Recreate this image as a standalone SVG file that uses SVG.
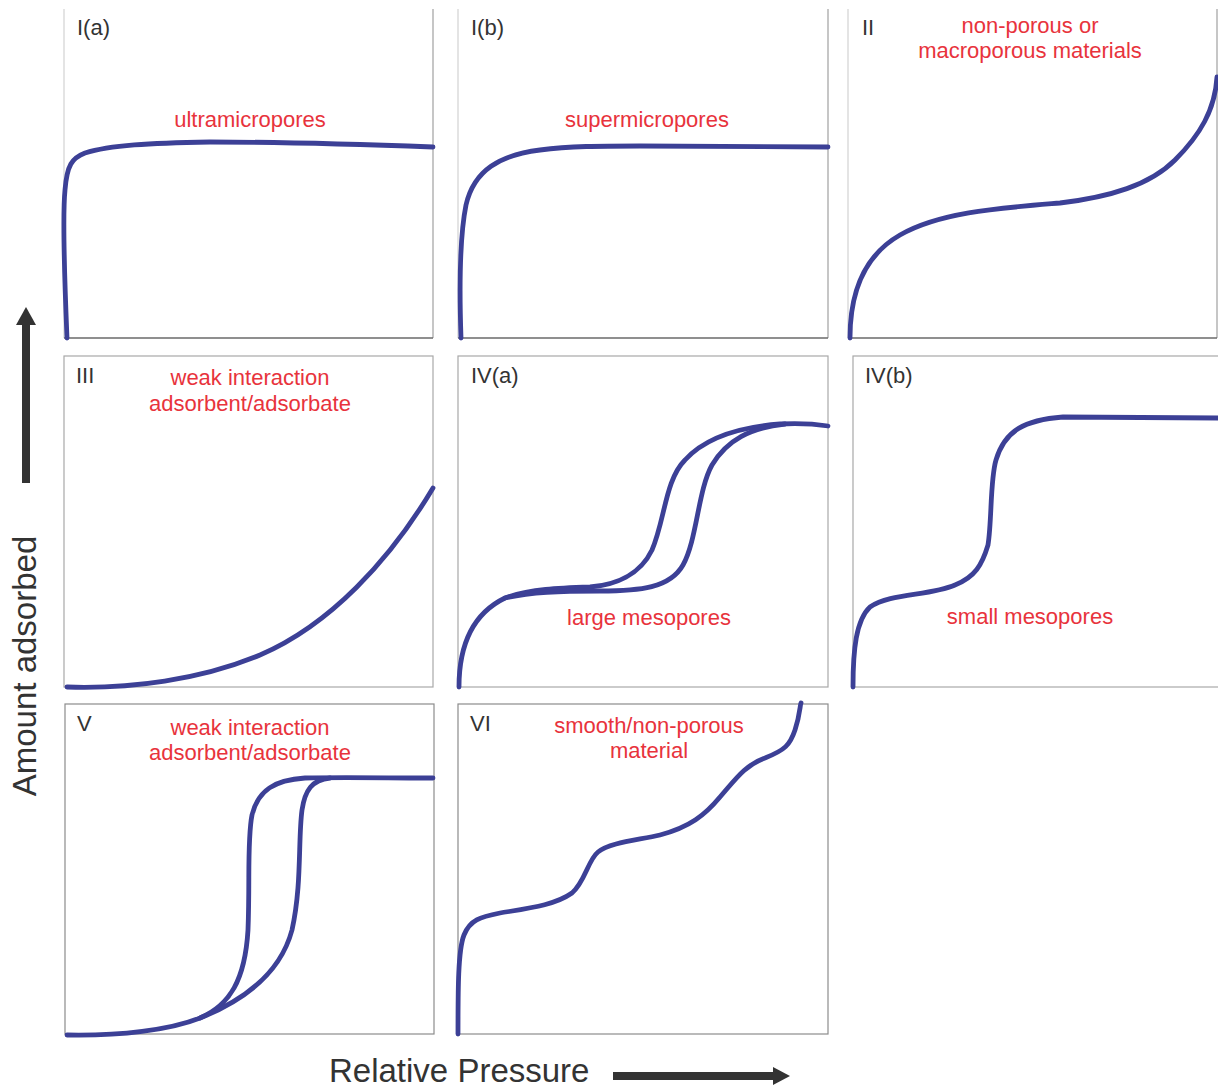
<svg xmlns="http://www.w3.org/2000/svg" width="1218" height="1089" viewBox="0 0 1218 1089">
<defs>
<style>
.frame{fill:none;stroke:#a8a8a8;stroke-width:1.2}
.fl{stroke:#d2d2d2;stroke-width:1.2}
.fr{stroke:#a0a0a0;stroke-width:1.2}
.fb{stroke:#6a6a6a;stroke-width:1.4}
.curve{fill:none;stroke:#3c4096;stroke-width:4.8;stroke-linecap:round;stroke-linejoin:round}
.tag{font-family:"Liberation Sans",Arial,sans-serif;font-size:22px;fill:#333333}
.note{font-family:"Liberation Sans",Arial,sans-serif;font-size:22px;fill:#e8333c;text-anchor:middle}
.axis{font-family:"Liberation Sans",Arial,sans-serif;font-size:33px;fill:#333333}
</style>
</defs>
<rect width="1218" height="1089" fill="#ffffff"/>

<g id="panel-Ia">
<line class="fl" x1="64" y1="9" x2="64" y2="338"/>
<line class="fr" x1="433" y1="9" x2="433" y2="338"/>
<line class="fb" x1="64" y1="338" x2="433" y2="338"/>
<path class="curve" d="M67,338 C65,290 62,220 65,190 C67,165 72,158 85,153 C110,145 150,143 210,142 C300,142 380,145 433,147"/>
<text class="tag" x="77" y="35">I(a)</text>
<text class="note" x="250" y="127">ultramicropores</text>
</g>

<g id="panel-Ib">
<line class="fl" x1="458" y1="9" x2="458" y2="338"/>
<line class="fr" x1="828" y1="9" x2="828" y2="338"/>
<line class="fb" x1="458" y1="338" x2="828" y2="338"/>
<path class="curve" d="M461,338 C459,280 461,230 466,205 C474,170 500,155 540,150 C570,146 600,146 640,146 C720,147 780,147 828,147"/>
<text class="tag" x="471" y="35">I(b)</text>
<text class="note" x="647" y="127">supermicropores</text>
</g>

<g id="panel-II">
<line class="fl" x1="848" y1="9" x2="848" y2="338"/>
<line class="fr" x1="1217" y1="9" x2="1217" y2="338"/>
<line class="fb" x1="848" y1="338" x2="1217" y2="338"/>
<path class="curve" d="M850,338 C850,290 865,255 900,235 C940,212 1000,208 1060,203 C1110,197 1150,185 1175,160 C1200,135 1215,110 1217,77"/>
<text class="tag" x="862" y="35">II</text>
<text class="note" x="1030" y="33">non-porous or</text>
<text class="note" x="1030" y="58">macroporous materials</text>
</g>

<g id="panel-III">
<rect class="frame" x="64" y="356" width="369" height="331"/>
<path class="curve" d="M67,687 C130,689 200,680 260,655 C330,625 390,560 433,488"/>
<text class="tag" x="76" y="383">III</text>
<text class="note" x="250" y="385">weak interaction</text>
<text class="note" x="250" y="411">adsorbent/adsorbate</text>
</g>

<g id="panel-IVa">
<rect class="frame" x="458" y="356" width="370" height="331"/>
<path class="curve" d="M459,687 C459,650 470,615 505,598 C530,589 560,588 590,587 C615,585 640,575 652,550 C665,520 665,480 685,460 C705,438 740,427 780,424 C800,423 815,424 828,426"/>
<path class="curve" d="M505,598 C530,592 560,591 600,591 C640,591 670,588 683,565 C697,540 698,490 712,465 C727,440 750,428 785,424"/>
<text class="tag" x="471" y="383">IV(a)</text>
<text class="note" x="649" y="625">large mesopores</text>
</g>

<g id="panel-IVb">
<rect class="frame" x="853" y="356" width="370" height="331"/>
<path class="curve" d="M853,687 C853,650 856,620 870,607 C890,593 930,596 955,585 C975,577 982,565 988,545 C992,520 990,480 996,460 C1005,430 1025,420 1063,417 C1100,417 1150,418 1218,418"/>
<text class="tag" x="865" y="383">IV(b)</text>
<text class="note" x="1030" y="624">small mesopores</text>
</g>

<g id="panel-V">
<rect class="frame" x="65" y="704" width="369" height="330" style="stroke:#8c8c8c"/>
<path class="curve" d="M67,1035 C120,1036 170,1030 200,1018 C230,1005 245,980 248,930 C250,880 247,840 252,815 C258,790 275,780 305,778 C340,777 390,778 433,778"/>
<path class="curve" d="M200,1018 C240,1002 280,975 292,930 C302,885 298,840 302,810 C305,790 312,780 330,778"/>
<text class="tag" x="77" y="731">V</text>
<text class="note" x="250" y="735">weak interaction</text>
<text class="note" x="250" y="760">adsorbent/adsorbate</text>
</g>

<g id="panel-VI">
<rect class="frame" x="458" y="704" width="370" height="330" style="stroke:#8c8c8c"/>
<path class="curve" d="M458,1034 C458,990 458,950 464,935 C470,920 480,917 500,913 C530,908 555,905 572,893 C585,882 588,860 598,852 C610,842 640,840 660,835 C690,827 705,815 720,797 C735,780 745,765 765,758 C785,750 790,745 795,730 C800,715 800,705 801,703"/>
<text class="tag" x="470" y="731">VI</text>
<text class="note" x="649" y="733">smooth/non-porous</text>
<text class="note" x="649" y="758">material</text>
</g>

<g id="connectors">
<g id="y-axis-arrow">
<rect x="22" y="323" width="8" height="160" fill="#333333"/>
<polygon points="26,307 36,325 16,325" fill="#333333"/>
</g>
<g id="x-axis-arrow">
<rect x="613" y="1072" width="162" height="8" fill="#333333"/>
<polygon points="790,1076 773,1067 773,1085" fill="#333333"/>
</g>
</g>

<g id="axis-labels">
<text class="axis" x="0" y="0" text-anchor="middle" transform="translate(36,666) rotate(-90)">Amount adsorbed</text>
<text class="axis" x="329" y="1082">Relative Pressure</text>
</g>
</svg>
